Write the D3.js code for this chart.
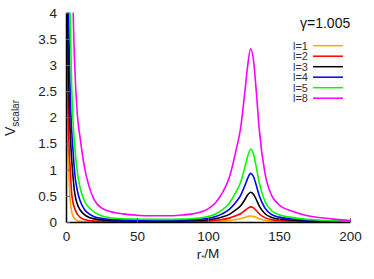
<!DOCTYPE html>
<html>
<head>
<meta charset="utf-8">
<script src="https://cdn.jsdelivr.net/npm/d3@7"></script>
<style>
  body { margin: 0; background: #fff; }
  svg { font-family: "Liberation Sans", Arial, sans-serif; }
</style>
</head>
<body>
<svg id="chart"></svg>
<script>
// Chart size
const width = 374;
const height = 279;
const margin = { top: 12.7, right: 24, bottom: 57, left: 66 };

// r*/M grid shared by every curve
const rGrid = [0.5, 1, 2, 3, 4, 5, 6, 8, 10, 13, 16, 20, 25, 30, 40, 50, 60, 70, 80, 90,
  100, 105, 110, 115, 120, 123, 126, 128, 130, 132, 134, 136, 140, 145, 150, 160, 170, 180, 190, 200];

// V_scalar, one array per l
const vL1 = [4.3, 1.9, 0.9, 0.4, 0.2, 0.11, 0.06, 0.025, 0.012, 0.007, 0.005, 0.004, 0.004, 0.004, 0.004, 0.004, 0.004, 0.004, 0.0045, 0.0056,
  0.009, 0.013, 0.019, 0.03, 0.049, 0.063, 0.088, 0.105, 0.115, 0.108, 0.088, 0.063, 0.033, 0.018, 0.012, 0.007, 0.004, 0.003, 0.002, 0.001];
const vL2 = [10, 3.6, 1.6, 1.0, 0.55, 0.36, 0.27, 0.15, 0.09, 0.05, 0.03, 0.02, 0.015, 0.012, 0.011, 0.0105, 0.0105, 0.0105, 0.011, 0.014,
  0.022, 0.032, 0.048, 0.074, 0.123, 0.158, 0.22, 0.26, 0.29, 0.27, 0.22, 0.158, 0.083, 0.044, 0.029, 0.018, 0.011, 0.007, 0.004, 0.003];
const vL3 = [15, 4.8, 2.6, 1.7, 1.2, 0.85, 0.58, 0.34, 0.23, 0.14, 0.09, 0.06, 0.04, 0.03, 0.024, 0.022, 0.021, 0.021, 0.022, 0.028,
  0.043, 0.062, 0.095, 0.146, 0.24, 0.31, 0.43, 0.52, 0.57, 0.53, 0.43, 0.31, 0.163, 0.086, 0.057, 0.034, 0.021, 0.014, 0.009, 0.005];
const vL4 = [25, 7, 3.8, 2.4, 1.75, 1.35, 0.97, 0.6, 0.4, 0.24, 0.16, 0.1, 0.07, 0.05, 0.04, 0.036, 0.034, 0.034, 0.037, 0.045,
  0.07, 0.1, 0.155, 0.24, 0.39, 0.51, 0.7, 0.84, 0.93, 0.87, 0.7, 0.51, 0.27, 0.14, 0.093, 0.056, 0.034, 0.022, 0.014, 0.008];
const vL5 = [40, 15, 5.5, 3.8, 2.6, 1.9, 1.5, 0.95, 0.65, 0.4, 0.28, 0.19, 0.12, 0.085, 0.06, 0.055, 0.05, 0.05, 0.055, 0.067,
  0.105, 0.15, 0.23, 0.36, 0.59, 0.76, 1.05, 1.26, 1.39, 1.3, 1.05, 0.76, 0.4, 0.21, 0.14, 0.084, 0.05, 0.034, 0.021, 0.013];
const vL8 = [100, 50, 20, 10, 6.0, 4.1, 3.1, 2.05, 1.6, 1.05, 0.7, 0.42, 0.27, 0.21, 0.155, 0.13, 0.12, 0.12, 0.13, 0.16,
  0.25, 0.36, 0.55, 0.85, 1.4, 1.8, 2.5, 3.0, 3.31, 3.1, 2.5, 1.8, 0.95, 0.5, 0.33, 0.2, 0.12, 0.08, 0.05, 0.03];

const seriesNames = ["l=1", "l=2", "l=3", "l=4", "l=5", "l=8"];
const seriesValues = [vL1, vL2, vL3, vL4, vL5, vL8];
const seriesColors = ["#ffa500", "#ff0000", "#000000", "#0000ff", "#00ff00", "#ff00ff"];

const xTicks = [0, 50, 100, 150, 200];
const yTicks = [0, 0.5, 1, 1.5, 2, 2.5, 3, 3.5, 4];

const svg = d3.select("#chart")
  .attr("width", width)
  .attr("height", height);

const x = d3.scaleLinear()
  .domain([0, 200])
  .range([margin.left, width - margin.right]);

const y = d3.scaleLinear()
  .domain([0, 4])
  .range([height - margin.bottom, margin.top]);

svg.append("clipPath")
  .attr("id", "plot-clip")
  .append("rect")
  .attr("x", margin.left)
  .attr("y", margin.top)
  .attr("width", width - margin.right - margin.left)
  .attr("height", height - margin.bottom - margin.top);

// Curves
const line = d3.line()
  .x((d, i) => x(rGrid[i]))
  .y(d => y(d))
  .curve(d3.curveMonotoneX);

svg.append("g")
  .attr("clip-path", "url(#plot-clip)")
  .selectAll("path")
  .data(seriesValues)
  .enter().append("path")
  .attr("d", line)
  .attr("fill", "none")
  .attr("stroke", (d, i) => seriesColors[i])
  .attr("stroke-width", 1.6);

// Axes (ticks point inward)
const xAxis = svg.append("g")
  .attr("transform", `translate(0,${height - margin.bottom})`)
  .call(d3.axisBottom(x).tickValues(xTicks).tickSizeInner(-4).tickSizeOuter(0).tickPadding(9));

const yAxis = svg.append("g")
  .attr("transform", `translate(${margin.left},0)`)
  .call(d3.axisLeft(y).tickValues(yTicks).tickFormat(d3.format("~g"))
    .tickSizeInner(-4).tickSizeOuter(0).tickPadding(9));

[xAxis, yAxis].forEach(g => {
  g.select(".domain").attr("stroke", "#000").attr("stroke-width", 1.5);
  g.selectAll(".tick line").attr("stroke", "#666").attr("stroke-width", 1);
  g.selectAll(".tick text")
    .attr("fill", "#222")
    .style("font-size", "13.5px")
    .style("font-family", "Liberation Sans, Arial, sans-serif");
});

// Axis titles
const xTitle = svg.append("text")
  .attr("x", (margin.left + width - margin.right) / 2)
  .attr("y", 259)
  .attr("text-anchor", "middle")
  .attr("fill", "#222")
  .style("font-size", "13.5px");
xTitle.append("tspan").text("r");
xTitle.append("tspan").attr("dy", "0.1em").style("font-size", "8px").text("*");
xTitle.append("tspan").attr("dy", "-0.1em").text("/M");

const yTitle = svg.append("text")
  .attr("transform", `translate(15,118) rotate(-90)`)
  .attr("text-anchor", "middle")
  .attr("fill", "#222")
  .style("font-size", "14px");
yTitle.append("tspan").text("V");
yTitle.append("tspan")
  .attr("dy", "0.35em")
  .style("font-size", "10px")
  .text("scalar");

// Legend
svg.append("text")
  .attr("x", 300)
  .attr("y", 28)
  .attr("fill", "#111")
  .style("font-size", "14px")
  .text("\u03b3=1.005");

const legend = svg.append("g")
  .selectAll("g")
  .data(seriesNames)
  .enter().append("g")
  .attr("transform", (d, i) => `translate(0,${45.7 + i * 10.5})`);

legend.append("text")
  .attr("x", 293)
  .attr("y", 0)
  .attr("dy", "0.36em")
  .attr("fill", "#333")
  .style("font-size", "11px")
  .text(d => d);

legend.append("line")
  .attr("x1", 313)
  .attr("x2", 343)
  .attr("y1", 0)
  .attr("y2", 0)
  .attr("stroke", (d, i) => seriesColors[i])
  .attr("stroke-width", 1.5);
</script>
</body>
</html>
